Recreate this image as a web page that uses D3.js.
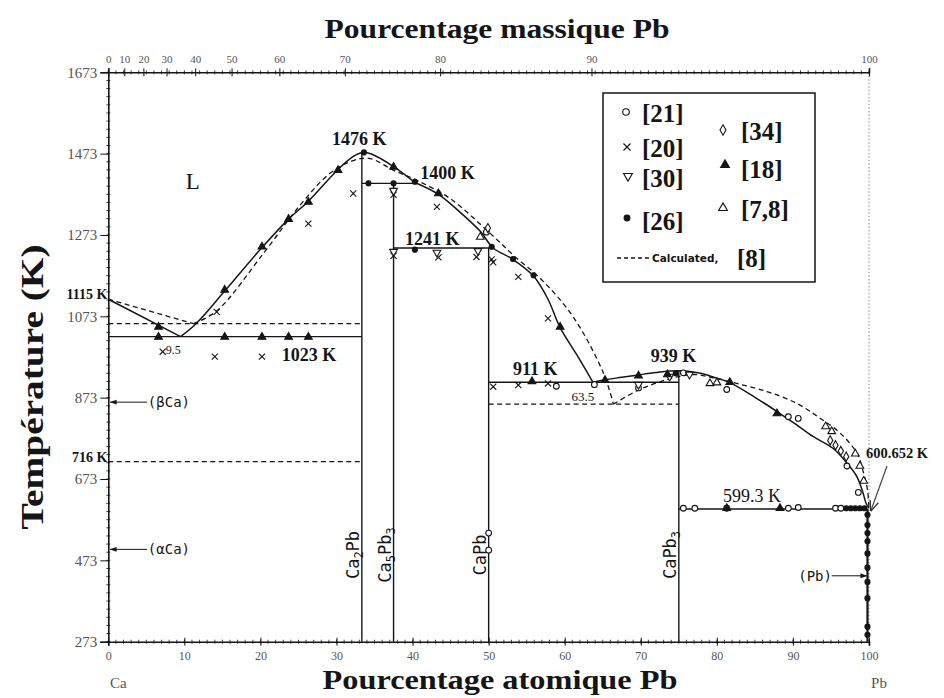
<!DOCTYPE html>
<html><head><meta charset="utf-8">
<script src="https://cdn.jsdelivr.net/npm/d3@7"></script>
<style>body{margin:0;background:#fff}svg{display:block}</style>
</head><body><svg id="c" width="944" height="698"></svg>
<script>
// ---------- DATA ----------
const atTicks = [0,10,20,30,40,50,60,70,80,90,100];
const wtTicks = [0,10,20,30,40,50,60,70,80,90,100];
const tempTicks = [273,473,673,873,1073,1273,1473,1673];

// assessed (solid) liquidus branches  [at% Pb, K]
const liqCaSide = [[0,1115],[9.5,1023]];
const liqCa2Pb = [[9.5,1023],[11.6,1056],[15.3,1135],[20.2,1242],[23.7,1312],[26.3,1356],[30.2,1434],[32.2,1466],[33.4,1476],[34.6,1472],[37.5,1441],[40.3,1402]];
const liqMid = [[40.3,1402],[43.4,1373],[46,1333],[48.9,1282],[50.6,1241],[53.2,1213],[55.9,1172],[57.8,1115],[59.4,1045],[61.6,978],[63.7,911]];
const liqCaPb3 = [[63.7,911],[65.3,917],[67.5,923],[69.7,929],[72,935],[75,939],[77.5,934],[79.5,924],[81.7,910],[85,874],[88.3,834],[90.5,806],[92.7,777],[95.3,748],[97.1,712],[98.4,679],[99.2,640],[99.6,614],[100,600.652]];

// calculated [8] (dashed)
const calcCaSide = [[0,1115],[11.2,1055]];
const calcMid = [[11.2,1055],[14.25,1086],[20.4,1228],[25.2,1346],[29.1,1424],[32.2,1456],[34.4,1461],[37.5,1432],[40.5,1408],[44.9,1363],[50.2,1277],[53.5,1219],[56.8,1166],[61.1,1072],[65.1,933],[66.4,857]];
const calcPb = [[66.4,857],[69.5,890],[72.5,912],[75,925],[77,930],[79.5,922],[82.6,908],[86.6,888],[90.5,859],[93.6,822],[96.2,786],[98.4,737],[99.3,687],[99.8,646],[100,601]];

// invariant horizontals  [from at%, to at%, K]
const solidHoriz = [[0,33.33,1023],[33.33,40.3,1400],[37.5,50.6,1241],[50,75,911],[75,99.8,599.3]];
const dashedHoriz = [[0,33.33,1055],[0,33.33,716],[50,75,857]];

// compounds
const compounds = [
  {parts:[["Ca",0],["2",1],["Pb",0]], at:33.33, top:1476},
  {parts:[["Ca",0],["5",1],["Pb",0],["3",1]], at:37.5, top:1400},
  {parts:[["CaPb",0]], at:50, top:1241},
  {parts:[["CaPb",0],["3",1]], at:75, top:939}
];
const pbSolvus = [[99.8,599.3],[99.8,273]];

// experimental points
const pts21 = [[50,540],[50,498],[49.7,1280],[58.9,901],[63.9,905],[69.7,897],[81.3,893],[89.4,826],[90.7,822],[97.1,705],[98.6,640],[75.6,601],[77.1,601],[81.3,601],[89.4,601],[90.7,603],[95.6,601],[96.3,601],[75.6,934]];
const pts20 = [[7.15,986],[14,974],[20.2,974],[14.25,1084],[26.3,1301],[32.2,1375],[43.2,1342],[37.5,1222],[37.5,1372],[43.4,1218],[48.4,1219],[50.6,1206],[53.9,1170],[57.8,1068],[50.6,900],[53.9,904],[57.8,908],[50.4,1213]];
const pts30 = [[37.5,1232],[37.5,1382],[43.2,1230],[48.6,1234],[73.8,925],[76.4,930],[69.7,905]];
const pts26 = [[40.3,1404],[50.4,1244],[53.2,1214],[55.9,1174],[33.6,1476],[34.2,1400],[37.5,1400],[40.3,1237],[99.8,585],[99.8,560],[99.8,540],[99.8,520],[99.8,490],[99.8,455],[99.8,420],[99.8,380],[99.8,310],[99.8,290],[97,601],[97.6,601],[98.2,601],[98.8,601],[99.4,601],[74.6,933]];
const pts34 = [[94.9,768],[95.6,756],[96.3,742],[97,728],[49.9,1290]];
const pts18 = [[6.6,1047],[15.3,1138],[20.2,1244],[23.7,1312],[26.3,1354],[30.2,1432],[37.5,1440],[43.4,1375],[59.4,1047],[55.7,913],[69.7,927],[81.7,911],[87.9,834],[88.3,601],[81.3,601],[6.6,1022],[15.3,1022],[20.2,1022],[23.7,1022],[26.3,1022],[65.3,916],[73.5,930]];
const pts78 = [[79.1,908],[80,910],[94.3,802],[95.1,790],[98.2,735],[98.8,705],[99.3,668],[48.9,1268]];

// ---------- DRAW ----------
const svg = d3.select("#c");
const serif = "'Liberation Serif','Times New Roman',serif";
const mono = "'DejaVu Sans Mono',monospace";
const ink = "#151515";
const x = d3.scaleLinear().domain([0,100]).range([108.3,869]);
const y = d3.scaleLinear().domain([273,1673]).range([641.7,72.3]);
const MCa = 40.078, MPb = 207.2;
const wtToAt = w => w >= 100 ? 100 : 100*(w/MPb)/((w/MPb)+((100-w)/MCa));

const defs = svg.append("defs");
defs.append("marker").attr("id","arr").attr("viewBox","0 0 10 10").attr("refX",9).attr("refY",5)
  .attr("markerWidth",7).attr("markerHeight",7).attr("orient","auto-start-reverse")
  .append("path").attr("d","M0,1.5L10,5L0,8.5z").attr("fill",ink);
defs.append("marker").attr("id","arrO").attr("viewBox","0 0 10 10").attr("refX",9).attr("refY",5)
  .attr("markerWidth",9).attr("markerHeight",9).attr("orient","auto")
  .append("path").attr("d","M0,1L10,5L0,9").attr("fill","none").attr("stroke","#333").attr("stroke-width",1.2);

// dotted line at 100 % Pb
svg.append("line").attr("x1",x(100)).attr("x2",x(100)).attr("y1",y(1673)).attr("y2",y(273))
  .attr("stroke","#888").attr("stroke-width",1).attr("stroke-dasharray","1.5,2");

// bottom axis
const gB = svg.append("g").attr("transform",`translate(0,${y(273)})`)
  .call(d3.axisBottom(x).tickValues(atTicks).tickSize(4).tickPadding(6).tickFormat(d3.format("d")));
gB.select(".domain").attr("stroke",ink).attr("stroke-width",1.6);
gB.selectAll(".tick line").attr("y1",-4).attr("stroke",ink);
gB.selectAll("text").attr("font-family",serif).attr("font-size",12).attr("fill","#555");
gB.append("g").selectAll("line").data(d3.range(0,101,1)).join("line")
  .attr("x1",d=>x(d)).attr("x2",d=>x(d)).attr("y1",-2).attr("y2",2).attr("stroke",ink).attr("stroke-width",0.8);

// top axis (mass %)
const gT = svg.append("g").attr("transform",`translate(0,${y(1673)})`)
  .call(d3.axisTop(x).tickValues(wtTicks.map(wtToAt)).tickSize(4).tickPadding(5).tickFormat((d,i)=>wtTicks[i]));
gT.select(".domain").attr("stroke",ink).attr("stroke-width",1.6);
gT.selectAll(".tick line").attr("y1",-4).attr("y2",4).attr("stroke",ink);
gT.selectAll("text").attr("font-family",serif).attr("font-size",11).attr("fill","#555");
gT.append("g").selectAll("line").data(d3.range(0,101,1)).join("line")
  .attr("x1",d=>x(d)).attr("x2",d=>x(d)).attr("y1",-2).attr("y2",2).attr("stroke",ink).attr("stroke-width",0.8);

// left axis
const gL = svg.append("g").attr("transform",`translate(${x(0)},0)`)
  .call(d3.axisLeft(y).tickValues(tempTicks).tickSize(8).tickPadding(3).tickFormat(d3.format("d")));
gL.select(".domain").attr("stroke",ink).attr("stroke-width",1.6);
gL.selectAll(".tick line").attr("stroke",ink);
gL.selectAll("text").attr("font-family",serif).attr("font-size",15).attr("fill","#555");
gL.append("g").selectAll("line").data(d3.range(273,1674,20)).join("line")
  .attr("x1",-2).attr("x2",2).attr("y1",d=>y(d)).attr("y2",d=>y(d)).attr("stroke",ink).attr("stroke-width",0.8);

// left special labels
[[1115,"1115 K"],[716,"716 K"]].forEach(([t,s])=>{
  svg.append("text").attr("x",x(0)-1).attr("y",y(t)).attr("text-anchor","end")
    .attr("font-family",serif).attr("font-weight","bold").attr("font-size",14).attr("fill",ink).text(s);
});

// line generators
const lineC = d3.line().x(d=>x(d[0])).y(d=>y(d[1])).curve(d3.curveCatmullRom.alpha(0.5));
const lineS = d3.line().x(d=>x(d[0])).y(d=>y(d[1]));

// dashed horizontals
svg.append("g").selectAll("line").data(dashedHoriz).join("line")
  .attr("x1",d=>x(d[0])).attr("x2",d=>x(d[1])).attr("y1",d=>y(d[2])).attr("y2",d=>y(d[2]))
  .attr("stroke",ink).attr("stroke-width",1.3).attr("stroke-dasharray","5,3.5");

// solid horizontals
svg.append("g").selectAll("line").data(solidHoriz).join("line")
  .attr("x1",d=>x(d[0])).attr("x2",d=>x(d[1])).attr("y1",d=>y(d[2])).attr("y2",d=>y(d[2]))
  .attr("stroke",ink).attr("stroke-width",1.4);

// compound verticals
svg.append("g").selectAll("line").data(compounds).join("line")
  .attr("x1",d=>x(d.at)).attr("x2",d=>x(d.at)).attr("y1",d=>y(d.top)).attr("y2",y(273))
  .attr("stroke",ink).attr("stroke-width",1.4);
svg.append("path").attr("d",lineS(pbSolvus)).attr("stroke",ink).attr("stroke-width",2.2).attr("fill","none");

// liquidus solid
svg.append("path").attr("d",lineS(liqCaSide)).attr("fill","none").attr("stroke",ink).attr("stroke-width",1.5);
[liqCa2Pb,liqMid,liqCaPb3].forEach(a=>svg.append("path").attr("d",lineC(a)).attr("fill","none").attr("stroke",ink).attr("stroke-width",1.5));
// calculated dashed
svg.append("path").attr("d",lineS(calcCaSide)).attr("fill","none").attr("stroke",ink).attr("stroke-width",1.3).attr("stroke-dasharray","5,3.5");
[calcMid,calcPb].forEach(a=>svg.append("path").attr("d",lineC(a)).attr("fill","none").attr("stroke",ink).attr("stroke-width",1.3).attr("stroke-dasharray","5,3.5"));

// compound labels (rotated)
compounds.forEach(c=>{
  const t = svg.append("text").attr("transform",`translate(${x(c.at)-3},555) rotate(-90)`)
    .attr("text-anchor","middle").attr("font-family",mono).attr("font-size",17).attr("fill",ink);
  let prevSub = false;
  c.parts.forEach(([s,sub])=>{
    const ts = t.append("tspan").text(s);
    if(sub){ ts.attr("font-size",12).attr("dy",4); prevSub = true; }
    else if(prevSub){ ts.attr("dy",-4); prevSub = false; }
  });
});

// markers
const sym = {
  o:{type:d3.symbolCircle,size:26,fill:"#fff"},
  x:{type:d3.symbolTimes,size:26,fill:"none"},
  v:{type:d3.symbolTriangle,size:26,fill:"#fff",rot:180},
  dot:{type:d3.symbolCircle,size:20,fill:ink},
  dia:{type:d3.symbolDiamond,size:24,fill:"#fff"},
  tri:{type:d3.symbolTriangle,size:26,fill:ink},
  otri:{type:d3.symbolTriangle,size:26,fill:"#fff"}
};
function drawPts(g, data, key){
  const s = sym[key];
  g.selectAll(null).data(data).join("path")
    .attr("d",d3.symbol().type(s.type).size(s.size))
    .attr("transform",d=>`translate(${x(d[0])},${y(d[1])})${s.rot?` rotate(${s.rot})`:""}`)
    .attr("fill",s.fill).attr("stroke",ink).attr("stroke-width",1.1);
}
const gp = svg.append("g");
drawPts(gp.append("g"),pts21,"o");
drawPts(gp.append("g"),pts20,"x");
drawPts(gp.append("g"),pts30,"v");
drawPts(gp.append("g"),pts26,"dot");
drawPts(gp.append("g"),pts34,"dia");
drawPts(gp.append("g"),pts18,"tri");
drawPts(gp.append("g"),pts78,"otri");

// annotations
const lab = (px,py,s,size,anchor="start",w="bold")=>svg.append("text").attr("x",px).attr("y",py)
  .attr("text-anchor",anchor).attr("font-family",serif).attr("font-weight",w).attr("font-size",size).attr("fill",ink).text(s);
lab(x(33.0),y(1476)-7,"1476 K",18,"middle");
lab(x(41.0),y(1400)-4,"1400 K",18);
lab(x(39.0),y(1241)-3,"1241 K",18);
lab(x(53.2),y(911)-7,"911 K",18);
lab(x(71.3),y(939)-9,"939 K",18);
lab(x(80.8),y(599.3)-7,"599.3 K",18,"start","normal");
lab(x(22.8),y(1023)+24,"1023 K",18);
lab(x(7.55),y(1023)+17,"9.5",12,"start","normal");
lab(x(60.9),y(911)+19,"63.5",13,"start","normal");
lab(x(11.1),y(1473)+35,"L",23,"middle","normal");
lab(x(100)-3,458,"600.652 K",14.5);
svg.append("line").attr("x1",887).attr("y1",466).attr("x2",x(100)+2).attr("y2",y(600.652)+2)
  .attr("stroke","#444").attr("stroke-width",1.2).attr("marker-end","url(#arrO)");

// phase arrows
const phaseArrow = (t,label,dir)=>{
  if(dir<0){
    svg.append("line").attr("x1",x(5.1)).attr("x2",x(0)+2).attr("y1",y(t)).attr("y2",y(t))
      .attr("stroke",ink).attr("stroke-width",1).attr("marker-end","url(#arr)");
    svg.append("text").attr("x",x(5.2)).attr("y",y(t)+5).attr("font-family",mono).attr("font-size",14).attr("fill",ink).text(label);
  } else {
    svg.append("text").attr("x",x(90.7)).attr("y",y(t)+5).attr("font-family",mono).attr("font-size",14).attr("fill",ink).text(label);
    svg.append("line").attr("x1",x(95.1)).attr("x2",x(99.7)).attr("y1",y(t)).attr("y2",y(t))
      .attr("stroke",ink).attr("stroke-width",1).attr("marker-end","url(#arr)");
  }
};
phaseArrow(862,"(βCa)",-1);
phaseArrow(500,"(αCa)",-1);
phaseArrow(435,"(Pb)",1);

// legend
const lg = svg.append("g");
lg.append("rect").attr("x",603).attr("y",93).attr("width",212).attr("height",189)
  .attr("fill","#fff").attr("stroke",ink).attr("stroke-width",1.5);
const legItems = [
  ["o","[21]",626,112,642,122],["x","[20]",627,147,642,157],["v","[30]",628,176,642,187],["dot","[26]",627,218,642,230],
  ["dia","[34]",723,130,741,140],["tri","[18]",725,165,741,178],["otri","[7,8]",723,208,741,218]
];
legItems.forEach(([k,txt,mx,my,tx,ty])=>{
  const s = sym[k];
  lg.append("path").attr("d",d3.symbol().type(s.type).size(s.size*1.3)())
    .attr("transform",`translate(${mx},${my})${s.rot?` rotate(${s.rot})`:""}`)
    .attr("fill",s.fill).attr("stroke",ink).attr("stroke-width",1.1);
  lg.append("text").attr("x",tx).attr("y",ty).attr("font-family",serif).attr("font-weight","bold")
    .attr("font-size",25).attr("fill",ink).text(txt);
});
lg.append("line").attr("x1",617).attr("x2",649).attr("y1",258).attr("y2",258)
  .attr("stroke",ink).attr("stroke-width",1.3).attr("stroke-dasharray","4,3");
lg.append("text").attr("x",652).attr("y",262).attr("font-family","'DejaVu Sans',sans-serif").attr("font-weight","bold")
  .attr("font-size",10.5).attr("fill",ink).text("Calculated,");
lg.append("text").attr("x",737).attr("y",267).attr("font-family",serif).attr("font-weight","bold")
  .attr("font-size",25).attr("fill",ink).text("[8]");

// titles
svg.append("text").attr("x",497).attr("y",38).attr("text-anchor","middle").attr("font-family",serif)
  .attr("font-weight","bold").attr("font-size",27).attr("textLength",345).attr("lengthAdjust","spacingAndGlyphs")
  .attr("fill",ink).text("Pourcentage massique Pb");
svg.append("text").attr("x",500).attr("y",689).attr("text-anchor","middle").attr("font-family",serif)
  .attr("font-weight","bold").attr("font-size",28).attr("textLength",355).attr("lengthAdjust","spacingAndGlyphs")
  .attr("fill",ink).text("Pourcentage atomique Pb");
svg.append("text").attr("transform","translate(43,387) rotate(-90)").attr("text-anchor","middle").attr("font-family",serif)
  .attr("font-weight","bold").attr("font-size",31).attr("textLength",285).attr("lengthAdjust","spacingAndGlyphs")
  .attr("fill",ink).text("Température (K)");
svg.append("text").attr("x",x(0)+10).attr("y",688).attr("text-anchor","middle").attr("font-family",serif)
  .attr("font-size",15).attr("fill","#555").text("Ca");
svg.append("text").attr("x",x(100)+10).attr("y",688).attr("text-anchor","middle").attr("font-family",serif)
  .attr("font-size",15).attr("fill","#555").text("Pb");
</script></body></html>
